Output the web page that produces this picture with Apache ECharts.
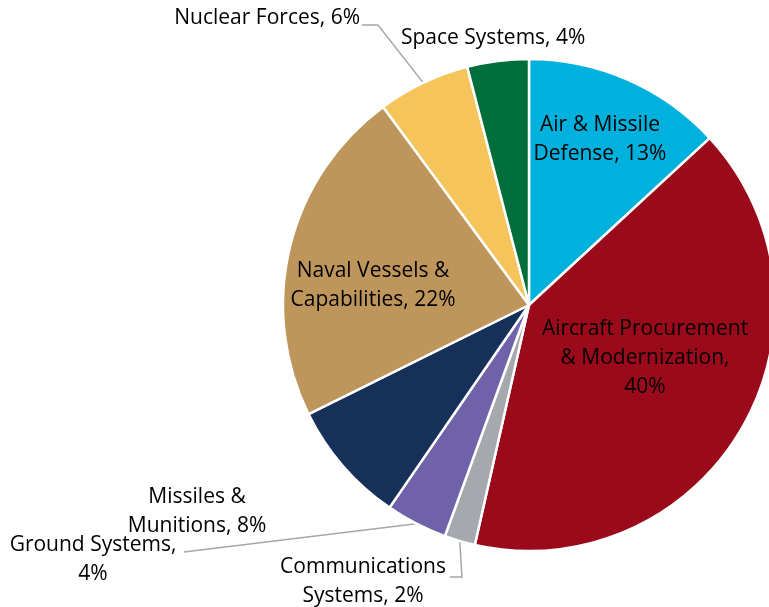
<!DOCTYPE html>
<html>
<head>
<meta charset="utf-8">
<script src="https://cdn.jsdelivr.net/npm/echarts@6/dist/echarts.min.js"></script>
<style>
  html, body { margin: 0; padding: 0; background: #fff; }
  #chart { width: 769px; height: 607px; }
</style>
</head>
<body>
<div id="chart"></div>
<script>
// Budget shares by portfolio, clockwise from the top
const categories = [
  'Air & Missile\nDefense',
  'Aircraft Procurement\n& Modernization',
  'Communications\nSystems',
  'Ground Systems',
  'Missiles &\nMunitions',
  'Naval Vessels &\nCapabilities',
  'Nuclear Forces',
  'Space Systems'
];
const shares = [13, 40, 2, 4, 8, 22, 6, 4];
const colors = ['#00B0DD', '#9B0A1A', '#A5A8AC', '#6F62A8', '#17305A', '#BE955B', '#F5C55C', '#006F3A'];
// labels whose percentage sits on its own line
const valueOnOwnLine = ['Aircraft Procurement\n& Modernization', 'Ground Systems'];

// where each label sits and, for the outside ones, how its leader line bends
const labelSpots = {
  0: { x: 600, y: 140, align: 'center' },
  1: { x: 645, y: 358, align: 'center' },
  2: { x: 363, y: 582, align: 'center', elbow: [462, 577], end: [450, 577] },
  3: { x: 93, y: 560, align: 'center', elbow: [184, 552], end: [184, 552] },
  4: { x: 197, y: 512, align: 'center' },
  5: { x: 373, y: 286, align: 'center' },
  6: { x: 360, y: 18, align: 'right', elbow: [378, 25], end: [362, 25] },
  7: { x: 401, y: 38, align: 'left' }
};

const chart = echarts.init(document.getElementById('chart'), null, { renderer: 'canvas' });

const data = categories.map((name, i) => ({
  name: name,
  value: shares[i],
  itemStyle: { color: colors[i] },
  labelLine: { show: !!labelSpots[i].elbow }
}));

chart.setOption({
  animation: false,
  series: [{
    type: 'pie',
    center: [529, 305],
    radius: 246,
    startAngle: 90,
    clockwise: true,
    avoidLabelOverlap: false,
    itemStyle: { borderColor: '#ffffff', borderWidth: 2.5 },
    label: {
      show: true,
      position: 'outside',
      fontFamily: '"Open Sans", Lato, sans-serif',
      fontSize: 21,
      lineHeight: 29,
      color: '#000000',
      formatter: p => p.name + ',' + (valueOnOwnLine.includes(p.name) ? '\n' : ' ') + p.value + '%'
    },
    labelLine: {
      show: true,
      length: 10,
      length2: 10,
      lineStyle: { color: '#A6A6A6', width: 1.5 }
    },
    labelLayout: function (params) {
      const spot = labelSpots[params.dataIndex];
      const out = { x: spot.x, y: spot.y, align: spot.align, verticalAlign: 'middle' };
      if (spot.elbow && params.labelLinePoints) {
        const start = params.labelLinePoints[0];
        out.labelLinePoints = [start, spot.elbow, spot.end];
      }
      return out;
    },
    data: data
  }]
});
</script>
</body>
</html>
